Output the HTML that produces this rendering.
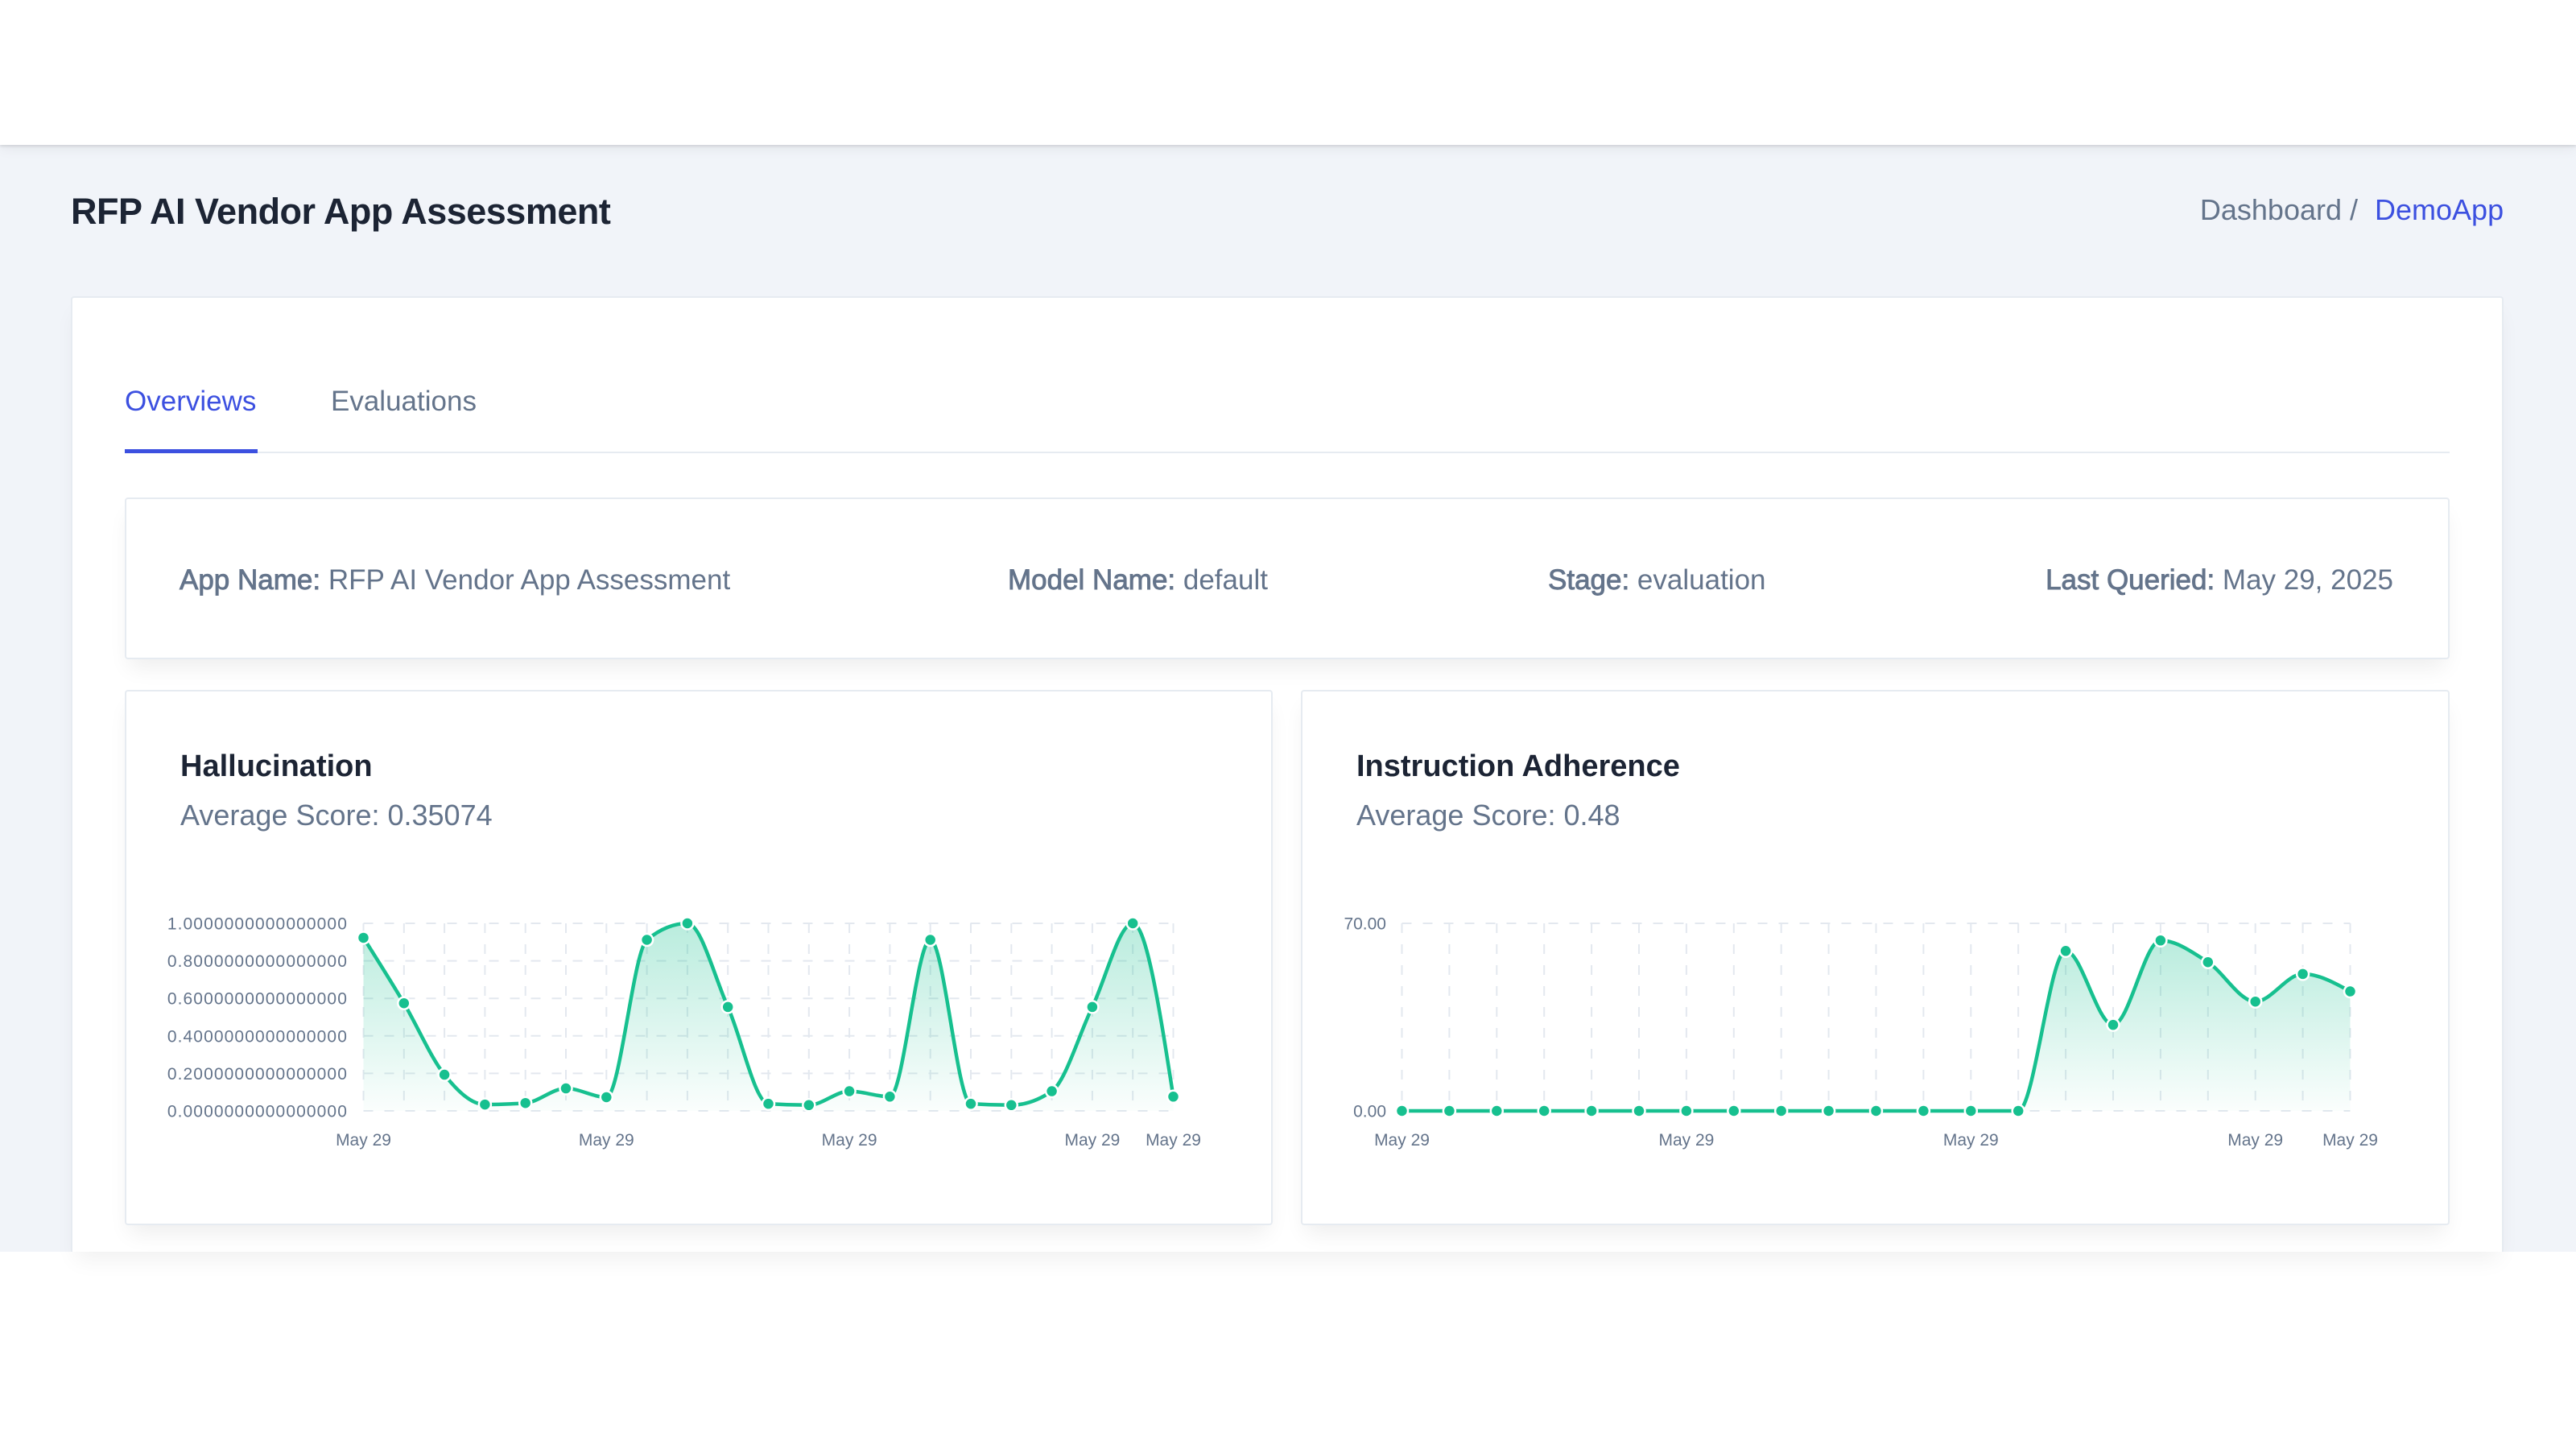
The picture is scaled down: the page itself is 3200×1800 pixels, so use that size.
<!DOCTYPE html>
<html>
<head>
<meta charset="utf-8">
<style>
html,body{margin:0;padding:0;}
body{width:3200px;height:1800px;position:relative;background:#ffffff;overflow:hidden;font-family:"Liberation Sans",sans-serif;}
.abs{position:absolute;box-sizing:border-box;}
#bg{left:0;top:180px;width:3200px;height:1375px;background:#f1f4f9;}
#hdr{left:0;top:0;width:3200px;height:180px;background:#fff;box-shadow:0 2px 3px rgba(0,0,0,0.10),0 6px 14px rgba(0,0,0,0.05);}
#main{left:88px;top:368px;width:3022px;height:1187px;background:#fff;border:2px solid #e6ebf1;border-bottom:none;border-radius:4px 4px 0 0;box-shadow:0 16px 26px -6px rgba(0,0,0,0.06);}
.card{background:#fff;border:2px solid #e6ebf1;border-radius:4px;box-shadow:0 16px 26px -6px rgba(0,0,0,0.07);}
#info{left:155px;top:618px;width:2888px;height:201px;}
#c1{left:155px;top:857px;width:1426px;height:665px;}
#c2{left:1616px;top:857px;width:1427px;height:665px;}
#tabline{left:155px;top:561px;width:2888px;height:2px;background:#e6ebf1;}
#tabul{left:155px;top:558px;width:165px;height:5px;background:#3c50e0;}
svg{position:absolute;left:0;top:0;}
</style>
</head>
<body>
<div class="abs" id="bg"></div>
<div class="abs" id="hdr"></div>
<div class="abs" id="main"></div>
<div class="abs" id="tabline"></div>
<div class="abs" id="tabul"></div>
<div class="abs card" id="info"></div>
<div class="abs card" id="c1"></div>
<div class="abs card" id="c2"></div>

<svg width="3200" height="1800" viewBox="0 0 3200 1800" xmlns="http://www.w3.org/2000/svg" font-family="Liberation Sans, sans-serif">
  <defs>
    <linearGradient id="gf" x1="0" y1="0" x2="0" y2="1">
      <stop offset="0" stop-color="#17c08f" stop-opacity="0.30"/>
      <stop offset="1" stop-color="#17c08f" stop-opacity="0.02"/>
    </linearGradient>
  </defs>

  <!-- Page header -->
  <text x="88" y="278" font-size="45" font-weight="bold" letter-spacing="-0.5" fill="#1c2434">RFP AI Vendor App Assessment</text>
  <text x="2929" y="273" font-size="36" fill="#64748b" text-anchor="end">Dashboard /</text>
  <text x="2950" y="273" font-size="36" fill="#3c50e0">DemoApp</text>

  <!-- Tabs -->
  <text x="155" y="510" font-size="35" fill="#3c50e0">Overviews</text>
  <text x="411" y="510" font-size="35" fill="#64748b">Evaluations</text>

  <!-- Info card -->
  <g font-size="35" fill="#64748b">
    <text x="223" y="732"><tspan stroke="#64748b" stroke-width="0.9">App Name:</tspan> RFP AI Vendor App Assessment</text>
    <text x="1252" y="732"><tspan stroke="#64748b" stroke-width="0.9">Model Name:</tspan> default</text>
    <text x="1923" y="732"><tspan stroke="#64748b" stroke-width="0.9">Stage:</tspan> evaluation</text>
    <text x="2973" y="732" text-anchor="end"><tspan stroke="#64748b" stroke-width="0.9">Last Queried:</tspan> May 29, 2025</text>
  </g>

  <!-- Chart titles -->
  <text x="224" y="964" font-size="38" font-weight="bold" fill="#1c2434">Hallucination</text>
  <text x="224" y="1025" font-size="36" fill="#64748b">Average Score: 0.35074</text>
  <text x="1685" y="964" font-size="38" font-weight="bold" fill="#1c2434">Instruction Adherence</text>
  <text x="1685" y="1025" font-size="36" fill="#64748b">Average Score: 0.48</text>

  <g id="chart1"></g>
  <g id="chart2"></g>
</svg>

<script>
(function(){
  var GREEN = '#17c08f';
  function sign(x){return x<0?-1:1;}
  function slope3(x0,y0,x1,y1,x2,y2){
    var h0=x1-x0,h1=x2-x1,s0=(y1-y0)/h0,s1=(y2-y1)/h1,p=(s0*h1+s1*h0)/(h0+h1);
    var r=(sign(s0)+sign(s1))*Math.min(Math.abs(s0),Math.abs(s1),0.5*Math.abs(p));
    return r||0;
  }
  function monoPath(xs,ys){
    var n=xs.length,t=new Array(n),i;
    for(i=1;i<n-1;i++){ t[i]=slope3(xs[i-1],ys[i-1],xs[i],ys[i],xs[i+1],ys[i+1]); }
    var h=xs[1]-xs[0]; t[0]=(3*(ys[1]-ys[0])/h - t[1])/2;
    h=xs[n-1]-xs[n-2]; t[n-1]=(3*(ys[n-1]-ys[n-2])/h - t[n-2])/2;
    var d='M'+xs[0].toFixed(2)+','+ys[0].toFixed(2);
    for(i=0;i<n-1;i++){
      var dx=(xs[i+1]-xs[i])/3;
      d+=' C'+(xs[i]+dx).toFixed(2)+','+(ys[i]+dx*t[i]).toFixed(2)+' '+
         (xs[i+1]-dx).toFixed(2)+','+(ys[i+1]-dx*t[i+1]).toFixed(2)+' '+
         xs[i+1].toFixed(2)+','+ys[i+1].toFixed(2);
    }
    return d;
  }
  function build(id,o){
    var g=document.getElementById(id),s='';
    var n=o.vals.length,xs=[],ys=[],i;
    for(i=0;i<n;i++){ xs.push(o.x0+(o.x1-o.x0)*i/(n-1)); ys.push(o.yb-(o.yb-o.yt)*o.vals[i]/o.max); }
    // grid
    var gs='stroke="#e3e8ef" stroke-width="2" stroke-dasharray="12 14" fill="none"';
    for(i=0;i<n;i++){ s+='<line x1="'+xs[i]+'" y1="'+o.yt+'" x2="'+xs[i]+'" y2="'+o.yb+'" '+gs+'/>'; }
    for(i=0;i<o.ticks.length;i++){
      var ty=o.yb-(o.yb-o.yt)*o.ticks[i].v/o.max;
      s+='<line x1="'+o.x0+'" y1="'+ty+'" x2="'+o.x1+'" y2="'+ty+'" '+gs+'/>';
      s+='<text x="'+o.lx+'" y="'+(ty+7.5)+'" font-size="21" letter-spacing="'+o.ls+'" fill="#64748b" text-anchor="end">'+o.ticks[i].t+'</text>';
    }
    // x labels
    for(i=0;i<o.xl.length;i++){
      s+='<text x="'+xs[o.xl[i]]+'" y="1423" font-size="21" fill="#64748b" text-anchor="middle">May 29</text>';
    }
    var p=monoPath(xs,ys);
    s+='<path d="'+p+' L'+xs[n-1]+','+o.yb+' L'+xs[0]+','+o.yb+' Z" fill="url(#gf)" stroke="none"/>';
    s+='<path d="'+p+'" fill="none" stroke="'+GREEN+'" stroke-width="4.5" stroke-linejoin="round" stroke-linecap="round"/>';
    for(i=0;i<n;i++){ s+='<circle cx="'+xs[i]+'" cy="'+ys[i]+'" r="7.5" fill="'+GREEN+'" stroke="#ffffff" stroke-width="2.5"/>'; }
    g.innerHTML=s;
  }
  build('chart1',{
    x0:451.5,x1:1457.5,yt:1147,yb:1380,max:1,lx:432,ls:1.1,
    vals:[0.923,0.574,0.193,0.034,0.042,0.120,0.073,0.912,1.0,0.554,0.038,0.031,0.105,0.076,0.912,0.038,0.031,0.105,0.554,1.0,0.076],
    ticks:[{v:1,t:'1.0000000000000000'},{v:0.8,t:'0.8000000000000000'},{v:0.6,t:'0.6000000000000000'},{v:0.4,t:'0.4000000000000000'},{v:0.2,t:'0.2000000000000000'},{v:0,t:'0.0000000000000000'}],
    xl:[0,6,12,18,20]
  });
  build('chart2',{
    x0:1741.5,x1:2919.5,yt:1147,yb:1380,max:70,lx:1722,ls:0,
    vals:[0,0,0,0,0,0,0,0,0,0,0,0,0,0,59.7,32.1,63.6,55.5,40.8,51.1,44.6],
    ticks:[{v:70,t:'70.00'},{v:0,t:'0.00'}],
    xl:[0,6,12,18,20]
  });
})();
</script>
</body>
</html>
